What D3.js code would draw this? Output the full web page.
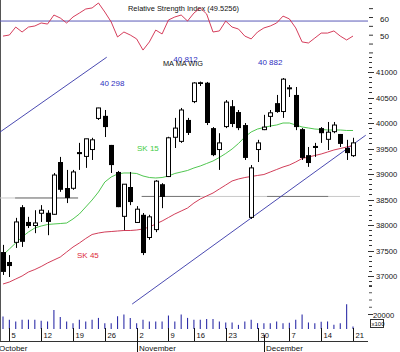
<!DOCTYPE html>
<html><head><meta charset="utf-8">
<script src="https://cdn.jsdelivr.net/npm/d3@7"></script>
<style>body{margin:0;background:#fff}svg{display:block}text{font-family:"Liberation Sans",Arial,sans-serif}</style>
</head><body><svg id="c" width="400" height="352"></svg>
<script>
// ---- data (WIG, Oct 2 - Dec 21, 2009, trading-day index 0..55) ----
const openP  = [37470,37275,37650,38350,38060,37980,38220,38240,38200,39235,38725,38710,39430,39335,39470,40080,40140,39570,39040,38160,38745,38040,38200,37745,37900,38800,38940,39710,39630,40060,40410,40800,40790,39900,39470,39920,40330,40215,39960,38140,39470,39860,40120,40390,40215,40680,40550,39880,39370,39550,39900,39670,39820,39785,39510,39350];
const highP  = [37610,37410,38140,38390,38160,38290,38390,38290,39020,39335,39080,39080,39610,39690,39710,40298,40255,39570,39060,38800,39040,38370,38235,38200,38880,38820,39730,40100,40295,40100,40800,40812,40805,39920,39800,40450,40450,40255,40000,39175,39670,40160,40255,40550,40882,40745,40706,39900,39530,39610,39920,40020,40020,39785,39670,39710];
const lowP   = [37020,36980,37550,37570,37940,37840,38060,37800,38200,38650,38430,38690,39080,39120,39275,40060,39725,39020,38350,37900,38390,38040,37410,37710,37860,38330,38940,39510,39610,39765,40390,40725,39960,39350,39080,39900,39920,39860,39275,38120,39235,39860,39920,40200,40100,40510,39860,39275,39140,39335,39610,39470,39800,39530,39275,39335];
const closeP = [37080,37195,38060,37670,37980,38040,38290,38060,38980,38690,38530,39040,39390,39690,39670,40295,39920,39175,38350,38800,38450,38310,37450,38160,38860,38550,39710,39900,40255,39805,40785,40765,40000,39370,39610,40410,39980,39900,39315,39120,39610,39920,40200,40215,40860,40690,39920,39315,39215,39510,39800,39820,39960,39590,39410,39610];
const sk15 = [37412,37529,37647,37765,37863,37941,37980,38010,38020,38029,38039,38118,38216,38353,38490,38647,38843,38941,39000,39020,39020,39010,38961,38931,38922,38931,38961,39010,39039,39069,39118,39157,39206,39255,39324,39402,39490,39598,39726,39824,39882,39912,39941,39961,40000,40000,39961,39922,39902,39882,39873,39863,39863,39863,39853,39853];
const sk45 = [36843,36882,36941,37000,37078,37127,37186,37255,37314,37372,37470,37568,37647,37735,37814,37843,37863,37872,37882,37892,37892,37902,37921,37961,38019,38078,38147,38216,38274,38333,38431,38510,38569,38627,38706,38784,38863,38902,38931,38951,38971,38990,39039,39088,39137,39176,39235,39304,39333,39363,39392,39431,39471,39500,39529,39559];
const rsi = [49.5,50.1,54.6,51.8,54.6,55.2,56.9,56.3,61.4,59.7,56.9,60.3,62.5,64.8,65.4,68.2,63.1,57.5,49.0,51.8,50.1,47.9,41.6,46.2,52.9,50.7,58.6,60.3,61.4,58.0,62.5,65.4,62.0,51.8,52.4,58.0,54.6,53.5,49.5,47.9,51.8,54.1,55.2,56.9,60.8,59.2,54.1,46.2,45.6,48.4,51.2,51.2,52.4,49.5,47.3,49.5256];
const volume = [17100,12900,10400,12900,12900,12900,11400,10400,26100,16700,10400,8100,12900,10400,12900,15300,8100,8100,17600,20000,15300,8100,12900,10400,10400,10400,18600,10400,20000,15300,12900,12900,13900,13900,10400,9000,9000,5700,10400,12900,8100,8100,8100,10400,8100,8600,12900,20000,9000,8100,10000,10400,5700,8100,34300,3300];
const weekTicks = [[1,"5"],[6,"12"],[11,"19"],[16,"26"],[21,"2"],[26,"9"],[30,"16"],[35,"23"],[40,"30"],[45,"7"],[50,"14"],[55,"21"]];
const months = [[-1,"October"],[21,"November"],[41,"December"]];
const priceTicks = [37000,37500,38000,38500,39000,39500,40000,40500,41000];
const rsiTicks = [50,60];
const rsiLevel = 58;
const volTickLabel = 20000;
const peaks = [[15,"40 298"],[31,"40 812"],[44,"40 882"]];
const trendUpper = [[-0.5,39820],[16.3,41290]];
const trendLower = [[20.3,36450],[57.0,39760]];
const support1 = [[-0.5,38530],[11.8,38530]];
const support2 = [[21.8,38560],[56.1,38560]];
const rsiTitle = "Relative Strength Index (49.5256)";

// ---- scales ----
const svg = d3.select("#c");
const x = d3.scaleLinear().domain([0,55]).range([3,353]);
const y = d3.scaleLinear().domain([37000,41000]).range([276,72]);
const ry = d3.scaleLinear().domain([50,60]).range([35.2,17.5]);
const vy = d3.scaleLinear().domain([0,20000]).range([329,314.5]);
const F = '"Liberation Sans",Arial,sans-serif';

// frame
svg.append("line").attr("x1",0.5).attr("x2",0.5).attr("y1",0).attr("y2",341).attr("stroke","#555");

// ---- RSI panel ----
svg.append("line").attr("x1",0).attr("x2",368).attr("y1",ry(rsiLevel)).attr("y2",ry(rsiLevel)).attr("stroke","#5a5ab8").attr("stroke-width",1);
svg.append("text").attr("x",128).attr("y",10.5).attr("font-size",8).attr("textLength",111).attr("lengthAdjust","spacingAndGlyphs").attr("fill","#111").text(rsiTitle);
svg.append("path").datum(rsi).attr("fill","none").attr("stroke","#d0284a").attr("stroke-width",0.9)
  .attr("d",d3.line().x((d,i)=>x(i)).y(d=>ry(d)));
d3.range(40,71,5).forEach(v=>{ const yy=ry(v); if(yy>4&&yy<56) svg.append("line").attr("x1",369).attr("x2",373).attr("y1",yy).attr("y2",yy).attr("stroke","#333");});
rsiTicks.forEach(v=>svg.append("text").attr("x",380).attr("y",ry(v)+4).attr("font-size",8).attr("fill","#111").text(v));

// ---- price panel ----
const lineGen = d3.line().x(d=>x(d[0])).y(d=>y(d[1]));
svg.append("path").datum(support1).attr("d",lineGen).attr("stroke","#c8c8c8").attr("fill","none");
svg.append("path").datum([[1.9,38530],[11.8,38530]]).attr("d",lineGen).attr("stroke","#777").attr("fill","none");
svg.append("path").datum(support2).attr("d",lineGen).attr("stroke","#c8c8c8").attr("fill","none");
svg.append("path").datum([[21.8,38560],[31,38560]]).attr("d",lineGen).attr("stroke","#777").attr("fill","none");
svg.append("path").datum([[41.5,38560],[51.1,38560]]).attr("d",lineGen).attr("stroke","#777").attr("fill","none");
svg.append("path").datum(trendUpper).attr("d",lineGen).attr("stroke","#3535a8").attr("fill","none").attr("stroke-width",0.9);
svg.append("path").datum(trendLower).attr("d",lineGen).attr("stroke","#3535a8").attr("fill","none").attr("stroke-width",0.9);
svg.append("path").datum(sk15).attr("fill","none").attr("stroke","#3cc03c").attr("stroke-width",0.9).attr("d",d3.line().x((d,i)=>x(i)).y(d=>y(d)));
svg.append("path").datum(sk45).attr("fill","none").attr("stroke","#cc2846").attr("stroke-width",0.9).attr("d",d3.line().x((d,i)=>x(i)).y(d=>y(d)));

// candles
const cg = svg.append("g");
openP.forEach((o,i)=>{
  const c = closeP[i], cx = Math.round(x(i));
  cg.append("line").attr("x1",cx+0.5).attr("x2",cx+0.5).attr("y1",y(highP[i])).attr("y2",y(lowP[i])).attr("stroke","#000");
  const top = y(Math.max(o,c)), bot = y(Math.min(o,c));
  const h = Math.max(1, bot-top);
  if (c < o) cg.append("rect").attr("x",cx-2).attr("y",top).attr("width",5).attr("height",h).attr("fill","#000");
  else cg.append("rect").attr("x",cx-1.5).attr("y",top).attr("width",4).attr("height",Math.max(1,h-0.5)).attr("fill","#fff").attr("stroke","#000").attr("stroke-width",1);
});

// price axis ticks
d3.range(36800,41301,100).forEach(v=>{
  const major = v%500===0;
  svg.append("line").attr("x1",major?368:369).attr("x2",major?374:372).attr("y1",Math.round(y(v))+0.5).attr("y2",Math.round(y(v))+0.5).attr("stroke","#333");
});
priceTicks.forEach(v=>svg.append("text").attr("x",376).attr("y",y(v)+3).attr("font-size",7.6).attr("fill","#111").text(v));

// labels
const pkOff = [[1.5,-21.8],[-27,-19.6],[-25,-13]];
peaks.forEach((p,k)=>svg.append("text").attr("x",x(p[0])+pkOff[k][0]).attr("y",y(highP[p[0]])+pkOff[k][1]).attr("font-size",8).attr("fill","#3030c0").text(p[1]));
svg.append("text").attr("x",163).attr("y",66).attr("font-size",8).attr("textLength",40).attr("lengthAdjust","spacingAndGlyphs").attr("fill","#111").text("MA MA WIG");
svg.append("text").attr("x",137).attr("y",151).attr("font-size",8).attr("fill","#44cc44").text("SK 15");
svg.append("text").attr("x",77).attr("y",258).attr("font-size",8).attr("fill","#dd2a3a").text("SK 45");

// ---- volume ----
volume.forEach((v,i)=>svg.append("line").attr("x1",x(i)).attr("x2",x(i)).attr("y1",vy(0)).attr("y2",vy(v)).attr("stroke","#2e2ea8").attr("stroke-width",1.1));
[30000,40000,50000,60000].forEach(v=>svg.append("line").attr("x1",369).attr("x2",372).attr("y1",vy(v)).attr("y2",vy(v)).attr("stroke","#555"));
svg.append("line").attr("x1",368).attr("x2",373).attr("y1",vy(volTickLabel)).attr("y2",vy(volTickLabel)).attr("stroke","#333");
svg.append("text").attr("x",373).attr("y",vy(volTickLabel)+3).attr("font-size",7.6).attr("fill","#111").text(volTickLabel);
svg.append("rect").attr("x",370.5).attr("y",319.5).attr("width",13).attr("height",8).attr("fill","#fff").attr("stroke","#333");
svg.append("text").attr("x",371.5).attr("y",326).attr("font-size",6).attr("fill","#111").text("x100");

// ---- date axis ----
svg.append("line").attr("x1",0).attr("x2",368).attr("y1",341.5).attr("y2",341.5).attr("stroke","#333");
weekTicks.forEach(([i,l])=>{
  const cx = Math.round(x(i))+0.5;
  svg.append("line").attr("x1",cx).attr("x2",cx).attr("y1",328).attr("y2",341).attr("stroke","#111");
  svg.append("text").attr("x",cx+2).attr("y",338).attr("font-size",7.6).attr("fill","#111").text(l);
});
months.forEach(([i,l])=>{
  const cx = Math.round(x(i))+0.5;
  svg.append("line").attr("x1",cx).attr("x2",cx).attr("y1",335).attr("y2",352).attr("stroke","#111");
  svg.append("text").attr("x",cx+1.5).attr("y",351).attr("font-size",8).attr("fill","#111").text(l);
});
</script></body></html>
